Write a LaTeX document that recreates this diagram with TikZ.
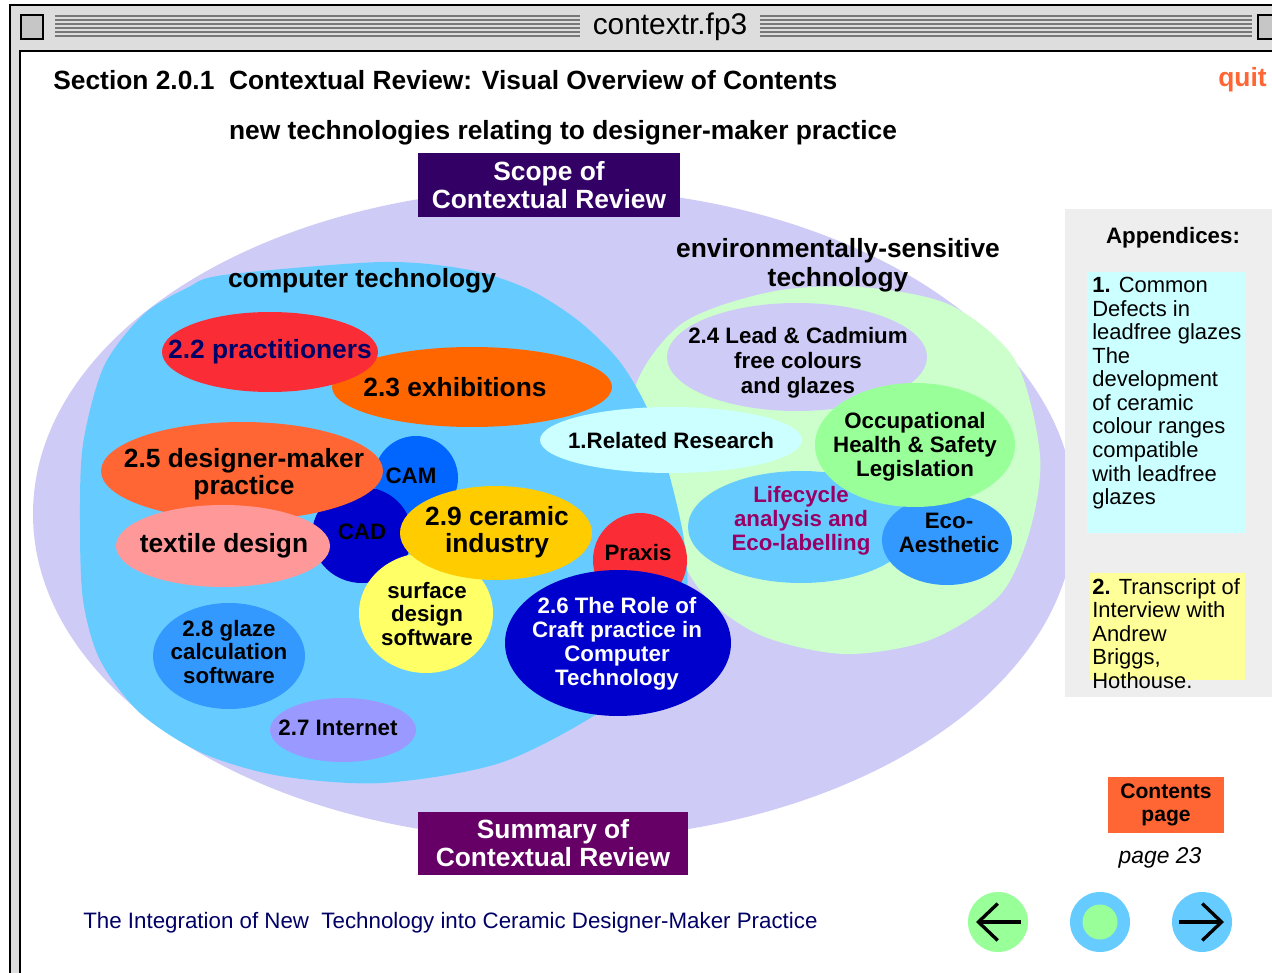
\documentclass[tikz,border=0pt]{standalone}
\usepackage{fontspec}
\setmainfont{Liberation Sans}
\usepackage{tikz}
\usetikzlibrary{shapes.geometric}
\usetikzlibrary{arrows.meta}

\definecolor{lavbg}{RGB}{206,204,246}
\definecolor{compblue}{RGB}{102,204,255}
\definecolor{envgreen}{RGB}{204,255,204}
\definecolor{pracred}{RGB}{250,45,55}
\definecolor{exorange}{RGB}{255,102,0}
\definecolor{dmorange}{RGB}{255,102,51}
\definecolor{texpink}{RGB}{255,153,153}
\definecolor{camblue}{RGB}{0,102,255}
\definecolor{cadblue}{RGB}{0,0,204}
\definecolor{cergold}{RGB}{255,204,0}
\definecolor{surfyellow}{RGB}{255,255,102}
\definecolor{glazeblue}{RGB}{51,153,255}
\definecolor{netviolet}{RGB}{153,153,255}
\definecolor{respale}{RGB}{204,255,255}
\definecolor{ohsgreen}{RGB}{153,255,153}
\definecolor{lifepurple}{RGB}{153,0,102}
\definecolor{scopeviolet}{RGB}{51,0,102}
\definecolor{summplum}{RGB}{102,0,102}
\definecolor{navytext}{RGB}{0,0,102}
\definecolor{panelgray}{RGB}{238,238,238}
\definecolor{notepale}{RGB}{255,255,153}
\definecolor{chromegray}{RGB}{221,221,221}
\definecolor{stripegray}{RGB}{120,120,120}

\newcommand{\bigfont}{\bfseries\fontsize{15}{15.6}\selectfont}
\newcommand{\smallfont}{\bfseries\fontsize{12.7}{13.6}\selectfont}
\newcommand{\notefont}{\fontsize{12.5}{13.4}\selectfont}

\tikzset{
  blob/.style n args={3}{ellipse,fill=#3,minimum width=#1*0.02cm,minimum height=#2*0.02cm,inner sep=0pt},
  lbl/.style={align=center,inner sep=0pt,font=\smallfont},
  biglbl/.style={align=center,inner sep=0pt,font=\bigfont},
  banner/.style={fill=#1,text=white,align=center,font=\bigfont,inner sep=0pt},
  navbutton/.style={circle,fill=#1,minimum size=60*0.02cm,inner sep=0pt},
  navarrow/.style={line width=1.9pt,-{Straight Barb[length=11pt,width=21pt]}},
  note/.style={anchor=north west,align=left,inner sep=0pt,font=\notefont},
}

\begin{document}
\begin{tikzpicture}[x=0.02cm,y=-0.02cm]
\useasboundingbox (0,0) rectangle (1272,973);
\fill[white] (0,0) rectangle (1272,973);

% window frame
\fill[chromegray] (10,5) rectangle (1272,50);
\fill[chromegray] (10,50) rectangle (20,973);
\draw[line width=1.2pt] (10,973) -- (10,5) -- (1272,5);
\draw[line width=1.2pt] (20,973) -- (20,51) -- (1272,51);
\foreach \y in {16,20,24,28,32,36} {
  \draw[stripegray,line width=0.9pt] (55,\y) -- (580,\y);
  \draw[stripegray,line width=0.9pt] (760,\y) -- (1252,\y);
}
\draw[fill=gray!45,line width=1pt] (21,15) rectangle (43,39);
\draw[fill=gray!45,line width=1pt] (1258,15) rectangle (1275,39);
\node[font=\fontsize{17}{18}\selectfont] (wintitle) at (670,27) {contextr.fp3};

% headings
\node[anchor=west,font=\bigfont,inner sep=0pt] (section) at (53,80) {Section 2.0.1\ \ Contextual Review: Visual Overview of Contents};
\node[anchor=east,font=\bigfont,text=dmorange,inner sep=0pt] (quit) at (1267,80) {quit};
\node[font=\bigfont] (subtitle) at (563,133) {new technologies relating to designer-maker practice};

% scope of review
\fill[lavbg] (554,514) ellipse [x radius=521, y radius=326];
\fill[envgreen] plot[smooth cycle] coordinates {(860,287) (950,305) (1015,360) (1040,455) (1030,530) (1000,595) (930,640) (844,654) (760,635) (700,590) (660,510) (632,400) (680,325) (770,292)};
\fill[compblue] plot[smooth cycle] coordinates {(382,262) (470,270) (530,290) (580,322) (620,362) (648,410) (668,470) (684,540) (686,600) (660,660) (600,712) (500,763) (382,783) (280,776) (202,753) (140,713) (100,660) (83,600) (80,522) (83,444) (104,366) (144,314) (187,288) (224,275)};

\node[biglbl] (comptech) at (362,281) {computer technology};
\node[biglbl] (envtech) at (838,265) {environmentally-sensitive\\[1pt]technology};

% environmentally-sensitive technology
\node[blob={260}{108}{lavbg}] (leadcad) at (797,357) {};
\node[lbl,font=\bfseries\fontsize{12.7}{14.2}\selectfont] (leadcad-t) at (798,363) {2.4 Lead \& Cadmium\\free colours\\and glazes};
\node[blob={262}{66}{respale}] (relres) at (671,440) {};
\node[lbl] (relres-t) at (671,441) {1.Related Research};
\node[blob={226}{112}{compblue}] (lifecyc) at (801,527) {};
\node[lbl,text=lifepurple] (lifecyc-t) at (801,521) {Lifecycle\\analysis and\\Eco-labelling};
\node[blob={130}{90}{glazeblue}] (ecoaes) at (947,540) {};
\node[lbl] (ecoaes-t) at (949,533) {Eco-\\Aesthetic};
\node[blob={200}{124}{ohsgreen}] (ohs) at (915,445) {};
\node[lbl] (ohs-t) at (915,447) {Occupational\\Health \& Safety\\Legislation};

% computer technology
\node[blob={280}{80}{exorange}] (exhib) at (472,387) {};
\node[biglbl] (exhib-t) at (455,387) {2.3 exhibitions};
\node[blob={216}{80}{pracred}] (pract) at (270,352) {};
\node[biglbl,text=navytext] (pract-t) at (270,352) {2.2 practitioners};
\node[blob={84}{84}{camblue}] (cam) at (416,478) {};
\node[lbl] (cam-t) at (411,476) {CAM};
\node[blob={100}{96}{cadblue}] (cad) at (362,535) {};
\node[lbl] (cad-t) at (362,532) {CAD};
\node[blob={282}{98}{dmorange}] (desmak) at (242,471) {};
\node[biglbl] (desmak-t) at (244,474) {2.5 designer-maker\\practice};
\node[blob={214}{82}{texpink}] (textile) at (223,546) {};
\node[biglbl] (textile-t) at (224,546) {textile design};
\node[blob={134}{120}{surfyellow}] (surface) at (426,613) {};
\node[lbl] (surface-t) at (427,614) {surface\\design\\software};
\node[blob={192}{94}{cergold}] (ceramic) at (496,533) {};
\node[biglbl] (ceramic-t) at (497,532) {2.9 ceramic\\industry};
\node[blob={94}{94}{pracred}] (praxis) at (640,560) {};
\node[lbl] (praxis-t) at (638,553) {Praxis};
\node[blob={226}{146}{cadblue}] (craft) at (618,643) {};
\node[lbl,text=white] (craft-t) at (617,644) {2.6 The Role of\\Craft practice in\\Computer\\Technology};
\node[blob={152}{106}{glazeblue}] (glaze) at (229,656) {};
\node[lbl] (glaze-t) at (229,652) {2.8 glaze\\calculation\\software};
\node[blob={146}{64}{netviolet}] (internet) at (343,730) {};
\node[lbl] (internet-t) at (338,728) {2.7 Internet};

\node[banner=scopeviolet,minimum width=262*0.02cm,minimum height=64*0.02cm] (scope) at (549,185) {Scope of\\Contextual Review};
\node[banner=summplum,minimum width=270*0.02cm,minimum height=63*0.02cm] (summary) at (553,843) {Summary of\\Contextual Review};

% appendices
\fill[panelgray] (1065,209) rectangle (1272,697);
\node[font=\smallfont] (apphead) at (1173,238) {Appendices:};
\fill[respale] (1087,272) rectangle (1245,533);
\node[note] (app1) at (1092,277) {\textbf{1.} Common\\Defects in\\leadfree glazes\\The\\development\\of ceramic\\colour ranges\\compatible\\with leadfree\\glazes};
\fill[notepale] (1090,573) rectangle (1245,680);
\node[note] (app2) at (1092,578) {\textbf{2.} Transcript of\\Interview with\\Andrew\\Briggs,\\Hothouse.};

% navigation
\node[fill=dmorange,minimum width=116*0.02cm,minimum height=56*0.02cm,align=center,inner sep=0pt,font=\bfseries\fontsize{12}{13.5}\selectfont] (contents) at (1166,805) {Contents\\page};
\node[font=\itshape\fontsize{13}{14}\selectfont] (pagenum) at (1160,858) {page 23};
\node[navbutton=ohsgreen] (back) at (998,922) {};
\node[navbutton=compblue] (home) at (1100,922) {};
\node[circle,fill=ohsgreen,minimum size=35*0.02cm,inner sep=0pt] (homedot) at (home) {};
\node[navbutton=compblue] (next) at (1202,922) {};
\draw[navarrow] (back.center) ++(23,0) -- ++(-45,0);
\draw[navarrow] (next.center) ++(-23,0) -- ++(45,0);

\node[anchor=west,text=navytext,font=\fontsize{12.7}{14}\selectfont,inner sep=0pt] (footer) at (83,923) {The Integration of New\ \ Technology into Ceramic Designer-Maker Practice};
\end{tikzpicture}
\end{document}
